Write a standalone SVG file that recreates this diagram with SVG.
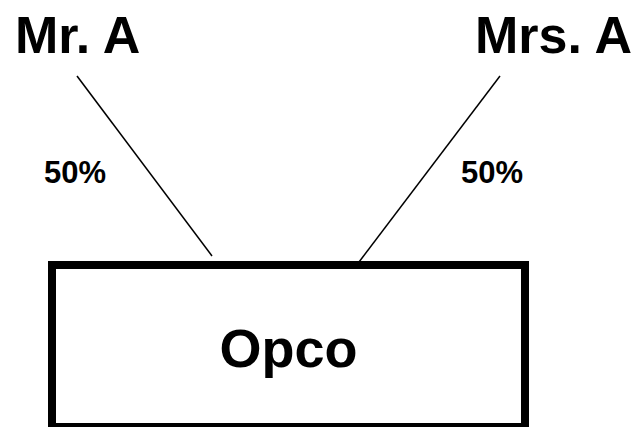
<svg xmlns="http://www.w3.org/2000/svg" width="635" height="427" viewBox="0 0 635 427">
<style>
text{font-family:"Liberation Sans",Arial,sans-serif;font-weight:bold;fill:#000}
.big{font-size:52px}
.pct{font-size:31px}
.conn{stroke:#000;stroke-width:1.5;fill:none}
</style>
<rect width="635" height="427" fill="#fff"/>
<g id="connectors">
<line class="conn" x1="77" y1="76" x2="212" y2="256"/>
<line class="conn" x1="500" y1="76" x2="359" y2="262"/>
</g>
<g id="mr-a"><text class="big" x="15" y="53">Mr. A</text></g>
<g id="mrs-a"><text class="big" x="475" y="53">Mrs. A</text></g>
<g id="pct-left"><text class="pct" x="44" y="183">50%</text></g>
<g id="pct-right"><text class="pct" x="461" y="183">50%</text></g>
<g id="opco">
<rect x="52" y="265" width="473" height="162" fill="#fff" stroke="#000" stroke-width="8"/>
<text x="288.5" y="367" font-size="54" text-anchor="middle">Opco</text>
</g>
</svg>
